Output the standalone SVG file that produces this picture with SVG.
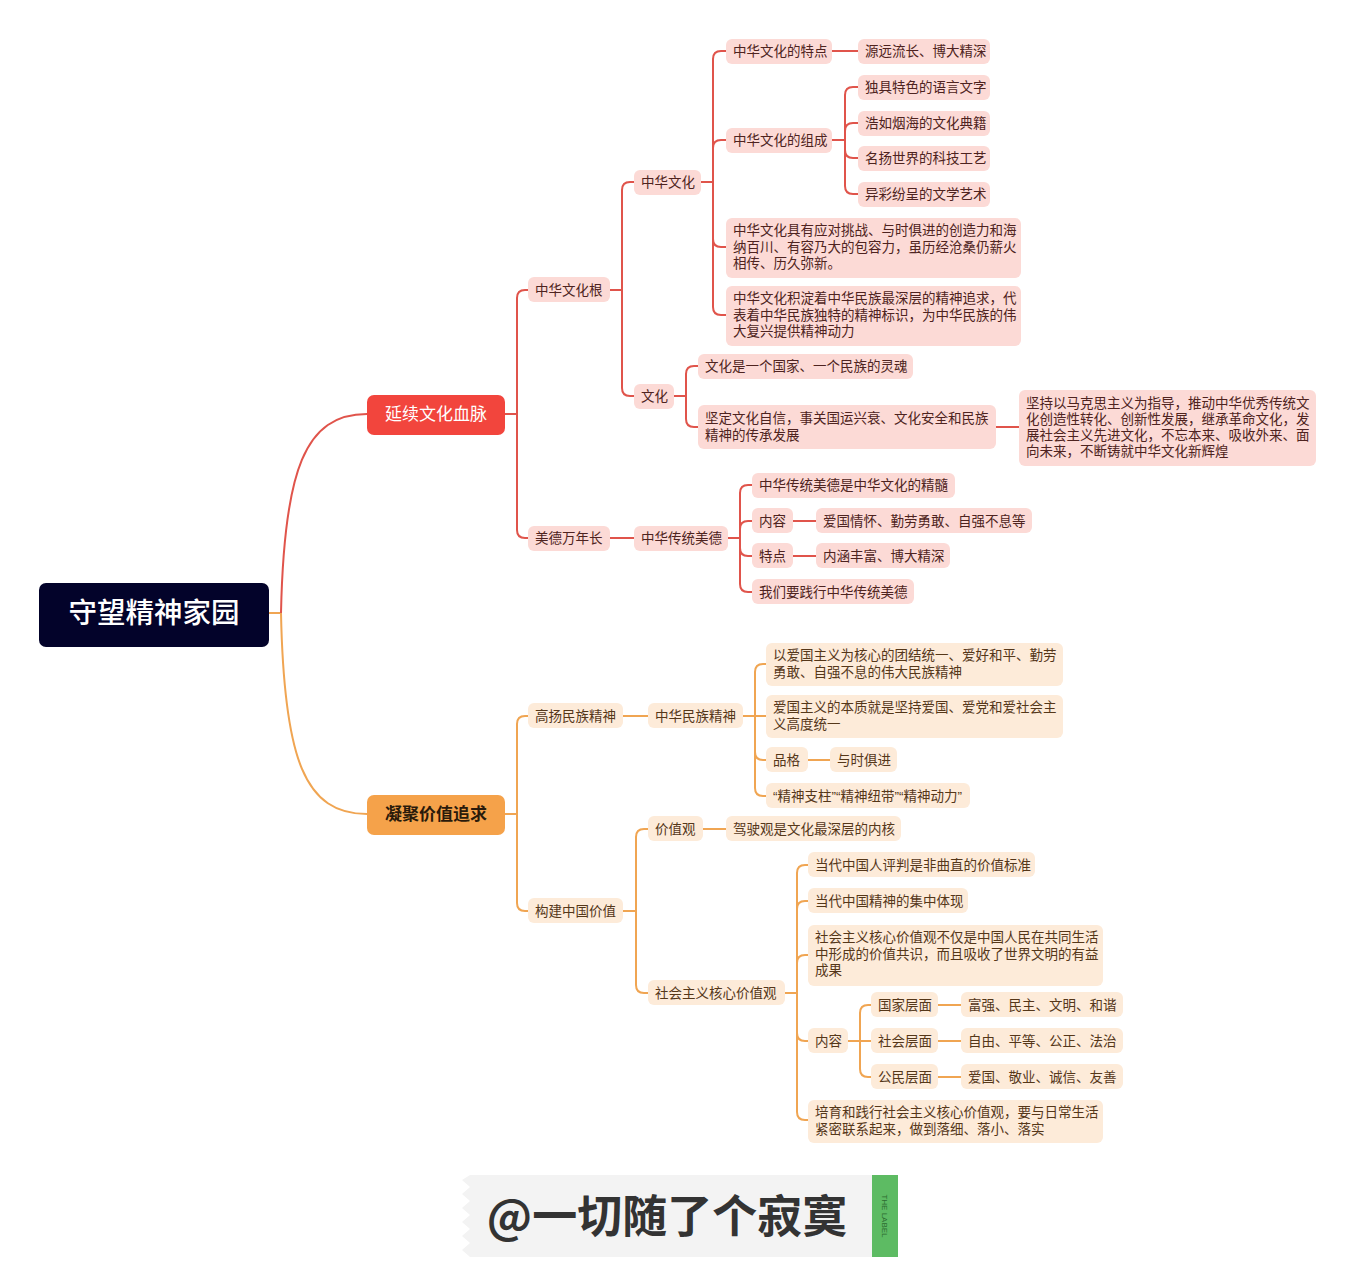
<svg xmlns="http://www.w3.org/2000/svg" width="1356" height="1280" viewBox="0 0 1356 1280">
<style>
text{font-family:"Noto Sans CJK SC","Noto Sans",sans-serif;}
.t{font-size:13.5px;}
.r rect{fill:#fcdad6;}
.r text{fill:#4e2320;}
.o rect{fill:#fdebd9;}
.o text{fill:#553719;}
.cr{fill:none;stroke:#e0544b;stroke-width:2;}
.co{fill:none;stroke:#f0a552;stroke-width:2;}
.q{font-family:"Liberation Sans",sans-serif;}
</style>
<rect width="1356" height="1280" fill="#ffffff"/>
<g id="connectors">
<path class="co" d="M269 613 H281"/>
<path class="cr" d="M281 613 C284 470 305 414 367 414" stroke-width="2.5"/>
<path class="co" d="M281 613 C284 760 305 814 367 814" stroke-width="2.5"/>
<g class="cr">
<path d="M505 414 H517 V298 Q517 290 525 290 H528"/>
<path d="M505 414 H517 V530 Q517 538 525 538 H528"/>
<path d="M610 290 H622 V190 Q622 182 630 182 H634"/>
<path d="M610 290 H622 V388 Q622 396 630 396 H634"/>
<path d="M701 182 H713 V59 Q713 51 721 51 H726"/>
<path d="M701 182 H713 V148 Q713 140 721 140 H726"/>
<path d="M701 182 H713 V239 Q713 247 721 247 H726"/>
<path d="M701 182 H713 V307 Q713 315 721 315 H726"/>
<path d="M832 51 H858"/>
<path d="M832 140 H845 V95 Q845 87 853 87 H858"/>
<path d="M832 140 H845 V131 Q845 123 853 123 H858"/>
<path d="M832 140 H845 V150 Q845 158 853 158 H858"/>
<path d="M832 140 H845 V186 Q845 194 853 194 H858"/>
<path d="M674 396 H686 V374 Q686 366 694 366 H698"/>
<path d="M674 396 H686 V419 Q686 427 694 427 H698"/>
<path d="M996 427 H1019"/>
<path d="M610 538 H634"/>
<path d="M728 538 H740 V493 Q740 485 748 485 H752"/>
<path d="M728 538 H740 V529 Q740 521 748 521 H752"/>
<path d="M728 538 H740 V548 Q740 556 748 556 H752"/>
<path d="M728 538 H740 V584 Q740 592 748 592 H752"/>
<path d="M793 521 H816"/>
<path d="M793 556 H816"/>
</g>
<g class="co">
<path d="M505 814 H517 V724 Q517 716 525 716 H528"/>
<path d="M505 814 H517 V903 Q517 911 525 911 H528"/>
<path d="M623 716 H648"/>
<path d="M743 716 H755 V672 Q755 664 763 664 H766"/>
<path d="M743 716 H766"/>
<path d="M743 716 H755 V752 Q755 760 763 760 H766"/>
<path d="M743 716 H755 V788 Q755 796 763 796 H766"/>
<path d="M808 760 H830"/>
<path d="M623 911 H636 V837 Q636 829 644 829 H648"/>
<path d="M623 911 H636 V985 Q636 993 644 993 H648"/>
<path d="M703 829 H726"/>
<path d="M785 993 H797 V873 Q797 865 805 865 H808"/>
<path d="M785 993 H797 V909 Q797 901 805 901 H808"/>
<path d="M785 993 H797 V963 Q797 955 805 955 H808"/>
<path d="M785 993 H797 V1033 Q797 1041 805 1041 H808"/>
<path d="M785 993 H797 V1112 Q797 1120 805 1120 H808"/>
<path d="M848 1041 H860 V1013 Q860 1005 868 1005 H871"/>
<path d="M848 1041 H871"/>
<path d="M848 1041 H860 V1069 Q860 1077 868 1077 H871"/>
<path d="M938 1005 H961"/>
<path d="M938 1041 H961"/>
<path d="M938 1077 H961"/>
</g>
</g>

<g id="root"><rect x="39" y="583" width="230" height="64" rx="7" fill="#03032a"/><text x="154" y="623" font-size="28.5" font-weight="500" fill="#ffffff" text-anchor="middle">守望精神家园</text></g>
<g id="n-main1"><rect x="367" y="395" width="138" height="40" rx="7" fill="#f2453d"/><text x="436" y="420" font-size="17" fill="#ffffff" text-anchor="middle">延续文化血脉</text></g>
<g id="n-main2"><rect x="367" y="795" width="138" height="40" rx="7" fill="#f5a24a"/><text x="436" y="820" font-size="17" font-weight="bold" fill="#2a1a0a" text-anchor="middle">凝聚价值追求</text></g>

<g class="r t">
<g id="n-zhwhg"><rect x="528" y="277" width="82" height="25" rx="6"/><text x="535" y="295">中华文化根</text></g>
<g id="n-mdwnz"><rect x="528" y="526" width="82" height="25" rx="6"/><text x="535" y="543">美德万年长</text></g>
<g id="n-zhwh"><rect x="634" y="170" width="67" height="25" rx="6"/><text x="641" y="187">中华文化</text></g>
<g id="n-wh"><rect x="634" y="384" width="40" height="25" rx="6"/><text x="641" y="401">文化</text></g>
<g id="n-td"><rect x="726" y="39" width="106" height="25" rx="6"/><text x="733" y="56">中华文化的特点</text></g>
<g id="n-yy"><rect x="858" y="39" width="132" height="25" rx="6"/><text x="865" y="56">源远流长、博大精深</text></g>
<g id="n-zc"><rect x="726" y="128" width="106" height="25" rx="6"/><text x="733" y="145">中华文化的组成</text></g>
<g id="n-c1"><rect x="858" y="75" width="132" height="25" rx="6"/><text x="865" y="92">独具特色的语言文字</text></g>
<g id="n-c2"><rect x="858" y="111" width="132" height="25" rx="6"/><text x="865" y="128">浩如烟海的文化典籍</text></g>
<g id="n-c3"><rect x="858" y="146" width="132" height="25" rx="6"/><text x="865" y="163">名扬世界的科技工艺</text></g>
<g id="n-c4"><rect x="858" y="182" width="132" height="25" rx="6"/><text x="865" y="199">异彩纷呈的文学艺术</text></g>
<g id="n-m1"><rect x="726" y="218" width="295" height="60" rx="6"/><text x="733" y="235">中华文化具有应对挑战、与时俱进的创造力和海<tspan x="733" dy="16.5">纳百川、有容乃大的包容力，虽历经沧桑仍薪火</tspan><tspan x="733" dy="16.5">相传、历久弥新。</tspan></text></g>
<g id="n-m2"><rect x="726" y="286" width="295" height="60" rx="6"/><text x="733" y="303">中华文化积淀着中华民族最深层的精神追求，代<tspan x="733" dy="16.5">表着中华民族独特的精神标识，为中华民族的伟</tspan><tspan x="733" dy="16.5">大复兴提供精神动力</tspan></text></g>
<g id="n-w1"><rect x="698" y="354" width="215" height="25" rx="6"/><text x="705" y="371">文化是一个国家、一个民族的灵魂</text></g>
<g id="n-w2"><rect x="698" y="405" width="298" height="44" rx="6"/><text x="705" y="423">坚定文化自信，事关国运兴衰、文化安全和民族<tspan x="705" dy="17">精神的传承发展</tspan></text></g>
<g id="n-w3"><rect x="1019" y="390" width="297" height="76" rx="6"/><text x="1026" y="408">坚持以马克思主义为指导，推动中华优秀传统文<tspan x="1026" dy="16">化创造性转化、创新性发展，继承革命文化，发</tspan><tspan x="1026" dy="16">展社会主义先进文化，不忘本来、吸收外来、面</tspan><tspan x="1026" dy="16">向未来，不断铸就中华文化新辉煌</tspan></text></g>
<g id="n-md"><rect x="634" y="526" width="94" height="25" rx="6"/><text x="641" y="543">中华传统美德</text></g>
<g id="n-d1"><rect x="752" y="473" width="203" height="25" rx="6"/><text x="759" y="490">中华传统美德是中华文化的精髓</text></g>
<g id="n-d2"><rect x="752" y="508" width="41" height="25" rx="6"/><text x="759" y="526">内容</text></g>
<g id="n-d2a"><rect x="816" y="508" width="216" height="25" rx="6"/><text x="823" y="526">爱国情怀、勤劳勇敢、自强不息等</text></g>
<g id="n-d3"><rect x="752" y="543" width="41" height="25" rx="6"/><text x="759" y="561">特点</text></g>
<g id="n-d3a"><rect x="816" y="543" width="134" height="25" rx="6"/><text x="823" y="561">内涵丰富、博大精深</text></g>
<g id="n-d4"><rect x="752" y="579" width="162" height="25" rx="6"/><text x="759" y="597">我们要践行中华传统美德</text></g>
</g>

<g class="o t">
<g id="n-gy"><rect x="528" y="703" width="95" height="25" rx="6"/><text x="535" y="721">高扬民族精神</text></g>
<g id="n-zm"><rect x="648" y="703" width="95" height="25" rx="6"/><text x="655" y="721">中华民族精神</text></g>
<g id="n-j1"><rect x="766" y="643" width="297" height="43" rx="6"/><text x="773" y="660">以爱国主义为核心的团结统一、爱好和平、勤劳<tspan x="773" dy="17">勇敢、自强不息的伟大民族精神</tspan></text></g>
<g id="n-j2"><rect x="766" y="695" width="297" height="43" rx="6"/><text x="773" y="712">爱国主义的本质就是坚持爱国、爱党和爱社会主<tspan x="773" dy="17">义高度统一</tspan></text></g>
<g id="n-j3"><rect x="766" y="747" width="42" height="25" rx="6"/><text x="773" y="765">品格</text></g>
<g id="n-j3a"><rect x="830" y="747" width="67" height="25" rx="6"/><text x="837" y="765">与时俱进</text></g>
<g id="n-j4"><rect x="766" y="783" width="204" height="25" rx="6"/><text x="773" y="801"><tspan class="q">“</tspan>精神支柱<tspan class="q">”“</tspan>精神纽带<tspan class="q">”“</tspan>精神动力<tspan class="q">”</tspan></text></g>
<g id="n-gj"><rect x="528" y="898" width="95" height="25" rx="6"/><text x="535" y="916">构建中国价值</text></g>
<g id="n-jzg"><rect x="648" y="816" width="55" height="25" rx="6"/><text x="655" y="834">价值观</text></g>
<g id="n-jzga"><rect x="726" y="816" width="175" height="25" rx="6"/><text x="733" y="834">驾驶观是文化最深层的内核</text></g>
<g id="n-sh"><rect x="648" y="980" width="137" height="25" rx="6"/><text x="655" y="998">社会主义核心价值观</text></g>
<g id="n-s1"><rect x="808" y="852" width="227" height="25" rx="6"/><text x="815" y="870">当代中国人评判是非曲直的价值标准</text></g>
<g id="n-s2"><rect x="808" y="888" width="160" height="25" rx="6"/><text x="815" y="906">当代中国精神的集中体现</text></g>
<g id="n-s3"><rect x="808" y="925" width="295" height="61" rx="6"/><text x="815" y="942">社会主义核心价值观不仅是中国人民在共同生活<tspan x="815" dy="16.5">中形成的价值共识，而且吸收了世界文明的有益</tspan><tspan x="815" dy="16.5">成果</tspan></text></g>
<g id="n-s4"><rect x="808" y="1028" width="40" height="25" rx="6"/><text x="815" y="1046">内容</text></g>
<g id="n-l1"><rect x="871" y="992" width="67" height="25" rx="6"/><text x="878" y="1010">国家层面</text></g>
<g id="n-l1a"><rect x="961" y="992" width="162" height="25" rx="6"/><text x="968" y="1010">富强、民主、文明、和谐</text></g>
<g id="n-l2"><rect x="871" y="1028" width="67" height="25" rx="6"/><text x="878" y="1046">社会层面</text></g>
<g id="n-l2a"><rect x="961" y="1028" width="162" height="25" rx="6"/><text x="968" y="1046">自由、平等、公正、法治</text></g>
<g id="n-l3"><rect x="871" y="1064" width="67" height="25" rx="6"/><text x="878" y="1082">公民层面</text></g>
<g id="n-l3a"><rect x="961" y="1064" width="162" height="25" rx="6"/><text x="968" y="1082">爱国、敬业、诚信、友善</text></g>
<g id="n-s5"><rect x="808" y="1100" width="295" height="43" rx="6"/><text x="815" y="1117">培育和践行社会主义核心价值观，要与日常生活<tspan x="815" dy="17">紧密联系起来，做到落细、落小、落实</tspan></text></g>
</g>

<g id="watermark">
<polygon points="470,1175 872,1175 872,1257 470,1257 462,1250 470,1243 462,1236 470,1229 462,1222 470,1215 462,1208 470,1201 462,1194 470,1187 462,1180" fill="#f3f3f3"/>
<text x="667" y="1233" font-size="45" font-weight="bold" fill="#333333" text-anchor="middle">@一切随了个寂寞</text>
<rect x="872" y="1175" width="26" height="82" fill="#5dbb63"/>
<text x="0" y="0" font-size="8" fill="#2d6b31" text-anchor="middle" transform="translate(882,1216) rotate(90)" style="font-family:'Liberation Sans',sans-serif">THE LABEL</text>
</g>
</svg>
